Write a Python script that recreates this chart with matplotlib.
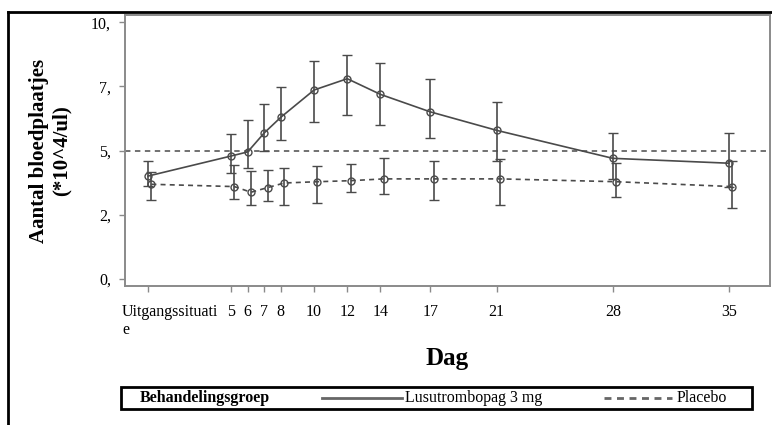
import numpy as np
import matplotlib
matplotlib.use("Agg")
import matplotlib.pyplot as plt
from matplotlib.lines import Line2D
from matplotlib.patches import Rectangle
from matplotlib.transforms import ScaledTranslation

plt.rcParams["font.family"] = ["Liberation Serif", "DejaVu Serif"]

days = [0, 5, 6, 7, 8, 10, 12, 14, 17, 21, 28, 35]
day_labels = ["Uitgangssituati\ne", "5", "6", "7", "8", "10", "12", "14", "17", "21", "28", "35"]

lusu_mean = [4.01, 4.79, 4.95, 5.69, 6.30, 7.36, 7.80, 7.19, 6.51, 5.79, 4.70, 4.51]
lusu_lower = [3.62, 4.12, 4.31, 5.00, 5.40, 6.10, 6.40, 6.00, 5.50, 4.61, 3.88, 3.60]
lusu_upper = [4.60, 5.66, 6.21, 6.82, 7.49, 8.50, 8.73, 8.40, 7.79, 6.90, 5.70, 5.68]

plac_mean = [3.69, 3.60, 3.38, 3.56, 3.74, 3.79, 3.83, 3.90, 3.90, 3.90, 3.79, 3.60]
plac_lower = [3.08, 3.10, 2.87, 3.04, 2.88, 2.95, 3.39, 3.30, 3.08, 2.87, 3.18, 2.78]
plac_upper = [4.18, 4.44, 4.21, 4.25, 4.31, 4.40, 4.49, 4.70, 4.60, 4.69, 4.51, 4.61]

y_ticks = [0, 2.5, 5, 7.5, 10]
y_labels = ["0,", "2,", "5,", "7,", "10,"]
ref_level = 5

line_col = "#4a4a4a"
frame_col = "#8a8a8a"

fig = plt.figure(figsize=(7.72, 4.25), dpi=100)
ax = fig.add_axes([125 / 772, 1 - 286 / 425, 645 / 772, 271 / 425])

ax.axhline(ref_level, color="#666666", ls=(0, (3, 2.5)), lw=1.3, zorder=1)

def draw(x, mean, lo, hi, ls):
    m = np.array(mean)
    err = [m - np.array(lo), np.array(hi) - m]
    ax.errorbar(x, m, yerr=err, color=line_col, ls=ls, lw=1.2, marker="o", ms=5,
                mfc="none", mec=line_col, mew=1.0, capsize=3.3, elinewidth=1.2,
                capthick=1.2, zorder=3)

d = np.array(days, dtype=float)
draw(d, lusu_mean, lusu_lower, lusu_upper, "-")
draw(d + 0.2, plac_mean, plac_lower, plac_upper, (0, (3, 2.5)))

ax.set_xlim(-1.39, 37.47)
ax.set_ylim(-0.27, 10.28)
ax.set_xticks(days)
ax.set_xticklabels(day_labels, fontsize=11.5)
ax.set_yticks(y_ticks)
ax.set_yticklabels(y_labels, fontsize=11.5)
ax.tick_params(length=4, width=1, color=frame_col, pad=6)
ax.tick_params(axis="x", pad=9)
for s in ax.spines.values():
    s.set_color(frame_col)
    s.set_linewidth(1.4)

# baseline label starts near the left edge, wrapped like the original
lbl = ax.get_xticklabels()[0]
lbl.set_horizontalalignment("left")
lbl.set_multialignment("left")
lbl.set_transform(lbl.get_transform() + ScaledTranslation(-0.26, 0, fig.dpi_scale_trans))

ax.set_ylabel("Aantal bloedplaatjes\n(*10^4/ul)", fontsize=15, fontweight="bold", labelpad=14)
ax.set_xlabel("Dag", fontsize=18, fontweight="bold", labelpad=6)

# outer frame (left and top edges)
fig.add_artist(Line2D([8 / 772, 8 / 772], [0, 1 - 12 / 425], color="black", lw=2))
fig.add_artist(Line2D([8 / 772, 1], [1 - 12 / 425, 1 - 12 / 425], color="black", lw=2))

# legend box
fig.add_artist(Rectangle((121 / 772, 1 - 409 / 425), 631 / 772, 22 / 425,
                         transform=fig.transFigure, fill=False, ec="black", lw=2))
ly = 1 - 398 / 425
fig.text(140 / 772, ly, "Behandelingsgroep", fontsize=11.5, fontweight="bold", va="center")
fig.add_artist(Line2D([322 / 772, 402 / 772], [ly, ly], color="#666666", lw=2))
fig.text(405 / 772, ly, "Lusutrombopag 3 mg", fontsize=11.5, va="center")
fig.add_artist(Line2D([604 / 772, 672 / 772], [ly, ly], color="#666666", lw=2,
                      ls=(0, (2.5, 2))))
fig.text(677 / 772, ly, "Placebo", fontsize=11.5, va="center")

fig.savefig("out.png", dpi=100)
